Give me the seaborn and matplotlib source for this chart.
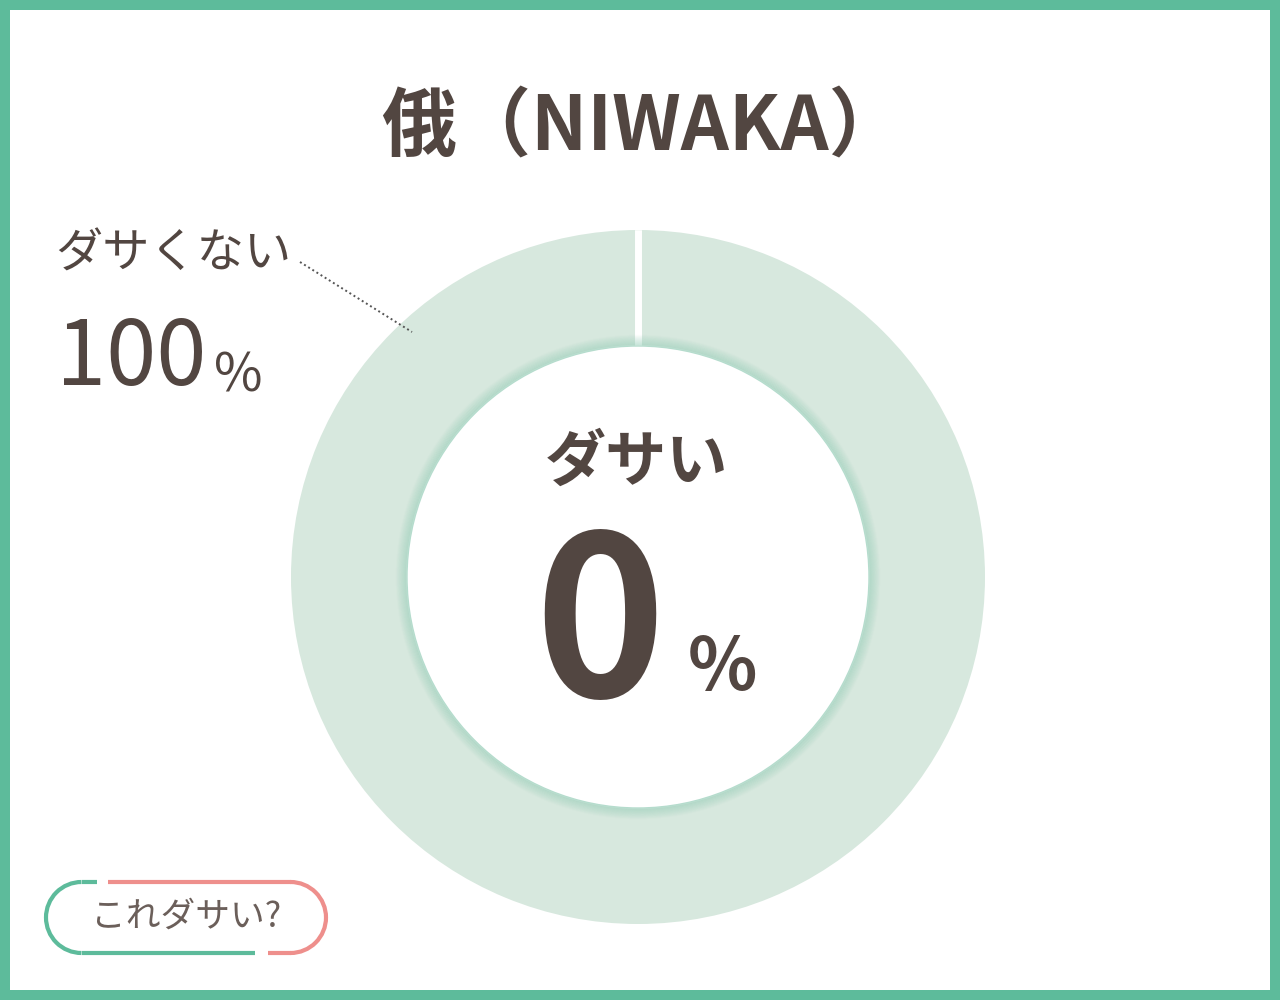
""" Donut chart: is NIWAKA dasai? """

import numpy as np
import seaborn as sns
import matplotlib.pyplot as plt
from matplotlib.patches import Circle, Arc

# Data
labels = ["ダサい", "ダサくない"]
values = [0, 100]
title = "俄（NIWAKA）"

TEXT = "#524641"
GREEN = "#5dbb9b"
RING = "#d7e8de"
PINK = "#ee8f8c"

sns.set_theme(style="white")
plt.rcParams["font.family"] = ["Noto Sans CJK JP", "DejaVu Sans"]

fig = plt.figure(figsize=(12.8, 10), dpi=100)
fig.patch.set_facecolor(GREEN)

# background axes (white card)
bg = fig.add_axes([0, 0, 1, 1])
bg.set_xlim(0, 1280)
bg.set_ylim(1000, 0)
bg.axis("off")
bg.add_patch(plt.Rectangle((10, 10), 1260, 980, facecolor="white", edgecolor="none"))

# donut axes
cx, cy, r = 638, 577, 347
rin = 231 / 347
ax = fig.add_axes([(cx - r) / 1280, (1000 - cy - r) / 1000, 2 * r / 1280, 2 * r / 1000])
wedges, _ = ax.pie(values, colors=["#f0a6a3", RING], startangle=90, counterclock=False,
                   radius=1, wedgeprops=dict(width=1 - rin, edgecolor="none"))
# white separator at the wedge boundary
for w in wedges:
    t = np.deg2rad(w.theta1)
    ax.plot([rin * np.cos(t), np.cos(t)], [rin * np.sin(t), np.sin(t)],
            color="white", linewidth=5, solid_capstyle="butt", zorder=2)
ax.set_xlim(-1, 1)
ax.set_ylim(-1, 1)
ax.set_aspect("equal")
ax.axis("off")

# soft shadow around the inner hole
for i in range(10):
    ax.add_patch(Circle((0, 0), rin + 0.003 * (i + 1), facecolor="none",
                        edgecolor="#8fcab3", linewidth=1.2, alpha=0.35 * (1 - i / 10), zorder=3))
ax.add_patch(Circle((0, 0), rin, facecolor="white", edgecolor="#b5dccd",
                    linewidth=1.0, zorder=4))

# front axes for texts
fg = fig.add_axes([0, 0, 1, 1])
fg.set_xlim(0, 1280)
fg.set_ylim(1000, 0)
fg.axis("off")
fg.patch.set_alpha(0)

# title
fg.text(642, 128, title, ha="center", va="center", fontsize=54, fontweight="bold", color=TEXT)

# outside label
fg.text(55, 254, labels[1], ha="left", va="center", fontsize=34, color=TEXT)
fg.text(56, 360, f"{values[1]}", ha="left", va="center", fontsize=65, color=TEXT)
fg.text(214, 376, "%", ha="left", va="center", fontsize=38, color=TEXT)
fg.plot([300, 412], [262, 332], linestyle=(0, (1, 1.5)), color="#555555", linewidth=1.4)

# center label
fg.text(636, 463, labels[0], ha="center", va="center", fontsize=44, fontweight="bold", color=TEXT)
fg.text(600, 632, f"{values[0]}", ha="center", va="center", fontsize=160, fontweight="bold",
        color=TEXT)
fg.text(722, 669, "%", ha="center", va="center", fontsize=52, fontweight="bold", color=TEXT)

# button
x0, x1, y0, y1 = 46, 326, 882, 953
rr = (y1 - y0) / 2
lw = 3
fg.add_patch(Arc((x0 + rr, y0 + rr), 2 * rr, 2 * rr, theta1=90, theta2=270,
                 color=GREEN, linewidth=lw))
fg.plot([x0 + rr, 97], [y0, y0], color=GREEN, linewidth=lw, solid_capstyle="butt")
fg.plot([x0 + rr, 255], [y1, y1], color=GREEN, linewidth=lw, solid_capstyle="butt")
fg.plot([108, x1 - rr], [y0, y0], color=PINK, linewidth=lw, solid_capstyle="butt")
fg.plot([268, x1 - rr], [y1, y1], color=PINK, linewidth=lw, solid_capstyle="butt")
fg.add_patch(Arc((x1 - rr, y0 + rr), 2 * rr, 2 * rr, theta1=-90, theta2=90,
                 color=PINK, linewidth=lw))
fg.text(186, 917, "これダサい?", ha="center", va="center", fontsize=25, color="#6b5f5a")

fig.savefig("out.png", dpi=100, facecolor=fig.get_facecolor())
